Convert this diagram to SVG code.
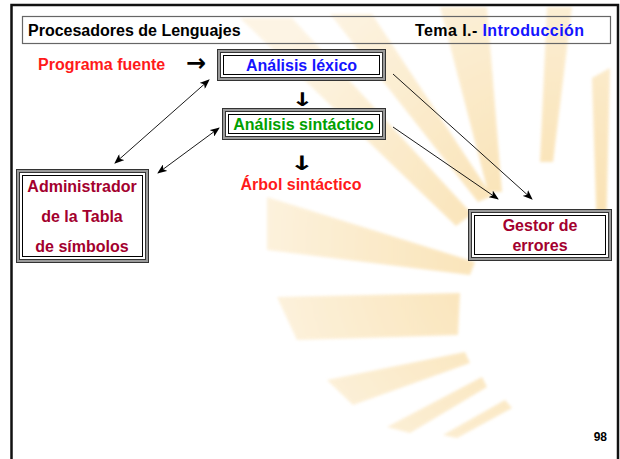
<svg xmlns="http://www.w3.org/2000/svg" width="620" height="459" viewBox="0 0 620 459">
<defs>
<marker id="ah" viewBox="0 0 10 8" refX="9" refY="4" markerWidth="10" markerHeight="8" markerUnits="userSpaceOnUse" orient="auto-start-reverse">
<path d="M0,0 L10,4 L0,8 L2.5,4 z" fill="#000"/>
</marker>
<radialGradient id="rg" gradientUnits="userSpaceOnUse" cx="560" cy="250" r="340">
<stop offset="0" stop-color="#f8d999"/>
<stop offset="0.45" stop-color="#fae3b6"/>
<stop offset="1" stop-color="#fdf2de"/>
</radialGradient>
<filter id="soft" x="-10%" y="-10%" width="120%" height="120%">
<feGaussianBlur stdDeviation="1.6"/>
</filter>
</defs>
<style>
text{font-family:"Liberation Sans",Arial,sans-serif;font-weight:bold;font-size:16px}
text.sym{font-family:"DejaVu Sans",sans-serif;font-weight:bold;fill:#000}
text.s1{font-size:24px}
text.s2{font-size:19px}
text.s3{font-size:20px}
text.pg{font-size:12px}
.ray{fill:url(#rg)}
.o1{fill:#fff;stroke:#333;stroke-width:1}
.o2{fill:none;stroke:#9a9a9a;stroke-width:2}
.o3{fill:none;stroke:#333;stroke-width:1}
.o4{fill:none;stroke:#000;stroke-width:1}
.con{stroke:#000;stroke-width:0.9;fill:none}
.red{fill:#ff1a1a}
.dr{fill:#a3002e}
</style>
<rect width="620" height="459" fill="#fff"/>
<g id="watermark" filter="url(#soft)" opacity="0.8">
<polygon class="ray" points="240,18 292,18 472,214 456,226"/>
<polygon class="ray" points="330,14 372,14 492,196 478,202"/>
<polygon class="ray" points="440,7 487,7 502,192 488,192"/>
<polygon class="ray" points="547,7 572,7 553,162 540,162"/>
<polygon class="ray" points="592,78 610,68 606,236 597,236"/>
<polygon class="ray" points="267,197 475,262 470,275 267,250"/>
<polygon class="ray" points="277,297 460,293 458,335 297,340"/>
<polygon class="ray" points="327,380 465,352 470,363 353,405"/>
<polygon class="ray" points="387,427 482,377 487,387 410,433"/>
<polygon class="ray" points="443,435 505,400 512,408 457,438"/>
</g>
<g id="frame">
<path d="M11.5,459 V5 H618 V459" fill="none" stroke="#111" stroke-width="2.5"/>
</g>
<g id="header">
<rect x="22.5" y="16.5" width="588" height="27" fill="none" stroke="#666" stroke-width="1.2"/>
<text x="28" y="36" fill="#000">Procesadores de Lenguajes</text>
<text x="415" y="36" fill="#000" textLength="169">Tema I.- <tspan fill="#1414ff">Introducción</tspan></text>
</g>
<g id="programa-fuente">
<text x="186" y="71" class="sym s1">→</text>
<text x="38" y="70" class="red">Programa fuente</text>
</g>
<g id="analisis-lexico">
<rect class="o1" x="217.5" y="49.5" width="168" height="31"/>
<rect class="o2" x="219" y="51" width="165" height="28"/>
<rect class="o3" x="220.5" y="52.5" width="162" height="25"/>
<rect class="o4" x="223.5" y="55.5" width="156" height="19"/>
<text x="301.5" y="71" text-anchor="middle" fill="#1414ff">Análisis léxico</text>
</g>
<g id="arrow-down-1">
<text transform="translate(302.5,106) scale(1.4,1)" class="sym s2" text-anchor="middle">↓</text>
</g>
<g id="analisis-sintactico">
<rect class="o1" x="222.5" y="108.5" width="163" height="31"/>
<rect class="o2" x="224" y="110" width="160" height="28"/>
<rect class="o3" x="225.5" y="111.5" width="157" height="25"/>
<rect class="o4" x="228.5" y="114.5" width="151" height="19"/>
<text x="303.5" y="130" text-anchor="middle" fill="#00a000">Análisis sintáctico</text>
</g>
<g id="arrow-down-2">
<text transform="translate(302,170) scale(1.5,1)" class="sym s3" text-anchor="middle">↓</text>
</g>
<g id="arbol-sintactico">
<text x="301" y="190" text-anchor="middle" class="red">Árbol sintáctico</text>
</g>
<g id="administrador">
<rect class="o1" x="16.5" y="169.5" width="132" height="93"/>
<rect class="o2" x="18" y="171" width="129" height="90"/>
<rect class="o3" x="19.5" y="172.5" width="126" height="87"/>
<rect class="o4" x="22.5" y="175.5" width="120" height="81"/>
<text x="82" y="192" text-anchor="middle" class="dr">Administrador</text>
<text x="82" y="222" text-anchor="middle" class="dr">de la Tabla</text>
<text x="82" y="252" text-anchor="middle" class="dr">de símbolos</text>
</g>
<g id="gestor-errores">
<rect class="o1" x="468.5" y="209.5" width="143" height="51"/>
<rect class="o2" x="470" y="211" width="140" height="48"/>
<rect class="o3" x="471.5" y="212.5" width="137" height="45"/>
<rect class="o4" x="474.5" y="215.5" width="131" height="39"/>
<text x="540" y="231" text-anchor="middle" class="dr">Gestor de</text>
<text x="540" y="251" text-anchor="middle" class="dr">errores</text>
</g>
<g id="connectors">
<line class="con" x1="115" y1="163" x2="209" y2="80" marker-start="url(#ah)" marker-end="url(#ah)"/>
<line class="con" x1="158" y1="173" x2="219" y2="128" marker-start="url(#ah)" marker-end="url(#ah)"/>
<line class="con" x1="393" y1="74" x2="532" y2="199" marker-end="url(#ah)"/>
<line class="con" x1="393" y1="127" x2="498" y2="199" marker-end="url(#ah)"/>
</g>
<g id="page-number">
<text x="607" y="441" text-anchor="end" class="pg" fill="#000">98</text>
</g>
</svg>
